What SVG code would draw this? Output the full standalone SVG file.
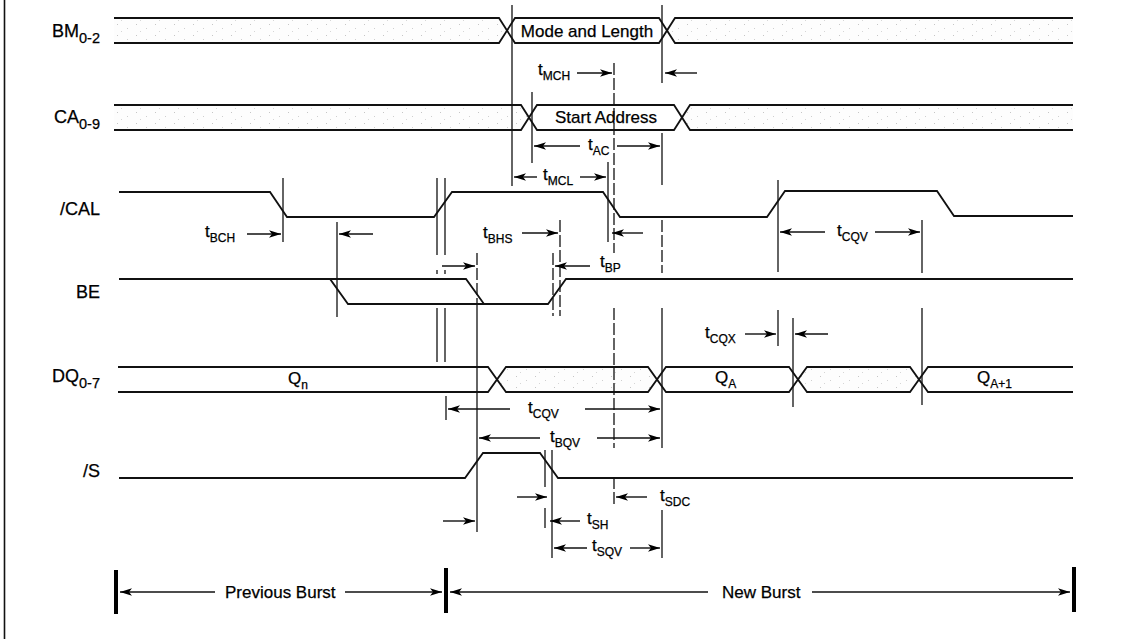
<svg xmlns="http://www.w3.org/2000/svg" width="1123" height="639" viewBox="0 0 1123 639">
<style>
text{font-family:"Liberation Sans",Arial,sans-serif;fill:#000;stroke:#000;stroke-width:0.25}
.lbl{font-size:17px}
.sl{font-size:18px}
.sub{font-size:14.5px}
.ts{font-size:12px}
.sig{fill:none;stroke:#111;stroke-width:1.8;stroke-linejoin:miter}
.ref{fill:none;stroke:#111;stroke-width:1.3}
.dash{fill:none;stroke:#111;stroke-width:1.3;stroke-dasharray:12 3}
.arr{fill:none;stroke:#111;stroke-width:1.4;marker-end:url(#ah)}
.bar{stroke:#000;stroke-width:4}
.dc{fill:url(#spk);stroke:none}
</style>
<defs>
<marker id="ah" markerUnits="userSpaceOnUse" markerWidth="13" markerHeight="9" refX="12" refY="4.5" orient="auto">
<path d="M0,0.8 L12,4.5 L0,8.2 L3,4.5 z" fill="#000"/>
</marker>
<pattern id="spk" patternUnits="userSpaceOnUse" width="19" height="11">
<rect width="19" height="11" fill="#fdfdfd"/>
<rect x="3" y="2" width="1" height="1" fill="#c6c6c6"/>
<rect x="13" y="6" width="1" height="1" fill="#cfcfcf"/>
<rect x="7" y="9" width="1" height="1" fill="#d6d6d6"/>
</pattern>
</defs>
<rect width="1123" height="639" fill="#fff"/>
<line x1="4.5" y1="0" x2="4.5" y2="639" stroke="#111" stroke-width="1.6"/>

<g id="BM">
<text class="sl" x="100" y="37" text-anchor="end">BM<tspan class="sub" dy="6">0-2</tspan></text>
<path class="dc" d="M114,18 H499 L507,30.5 L499,43 H114 Z"/>
<path class="dc" d="M667,30.5 L675,18 H1073 V43 H675 Z"/>
<path class="sig" d="M114,18 H499 L515,43 H659 L675,18 H1073"/>
<path class="sig" d="M114,43 H499 L515,18 H659 L675,43 H1073"/>
<text class="lbl" x="587" y="37" text-anchor="middle">Mode and Length</text>
</g>

<g id="CA">
<text class="sl" x="100" y="123" text-anchor="end">CA<tspan class="sub" dy="6">0-9</tspan></text>
<path class="dc" d="M114,105 H521 L529,117.5 L521,130 H114 Z"/>
<path class="dc" d="M682,117.5 L690,105 H1073 V130 H690 Z"/>
<path class="sig" d="M114,105 H521 L537,130 H674 L690,105 H1073"/>
<path class="sig" d="M114,130 H521 L537,105 H674 L690,130 H1073"/>
<text class="lbl" x="606" y="123" text-anchor="middle">Start Address</text>
</g>

<g id="CAL">
<text class="sl" x="100" y="215" text-anchor="end">/CAL</text>
<path class="sig" d="M119,192 H270 L287,217 H434 L452,192 H603 L620,217 H767 L785,191 H937 L954,216 H1073"/>
</g>

<g id="BE">
<text class="sl" x="100" y="298" text-anchor="end">BE</text>
<path class="sig" d="M119,279 H330 L348,304 H548 L566,279 H1073"/>
<path class="sig" d="M330,279 H466 L484,304"/>
</g>

<g id="DQ">
<text class="sl" x="100" y="382" text-anchor="end">DQ<tspan class="sub" dy="6">0-7</tspan></text>
<path class="dc" d="M497,379.5 L506,367 H648 L657,379.5 L648,392 H506 Z"/>
<path class="dc" d="M798,379.5 L807,367 H910 L919,379.5 L910,392 H807 Z"/>
<path class="sig" d="M118,367 H488 L506,392 H648 L666,367 H789 L807,392 H910 L928,367 H1073"/>
<path class="sig" d="M118,392 H488 L506,367 H648 L666,392 H789 L807,367 H910 L928,392 H1073"/>
<text class="lbl" x="288" y="384">Q<tspan class="ts" dy="5">n</tspan></text>
<text class="lbl" x="715" y="383">Q<tspan class="ts" dy="5">A</tspan></text>
<text class="lbl" x="977" y="383">Q<tspan class="ts" dy="5">A+1</tspan></text>
</g>

<g id="S">
<text class="sl" x="100" y="477" text-anchor="end">/S</text>
<path class="sig" d="M119,478 H465 L483,453 H540 L558,478 H1073"/>
</g>

<g id="connectors">
<line class="ref" x1="283" y1="178" x2="283" y2="242"/>
<line class="ref" x1="337" y1="222" x2="337" y2="317"/>
<line class="ref" x1="437" y1="178" x2="437" y2="255"/>
<line class="ref" x1="445" y1="178" x2="445" y2="255"/>
<line class="ref" x1="437" y1="270" x2="437" y2="274"/>
<line class="ref" x1="445" y1="270" x2="445" y2="274"/>
<line class="ref" x1="437" y1="308" x2="437" y2="362"/>
<line class="ref" x1="445" y1="308" x2="445" y2="362"/>
<line class="dash" x1="477" y1="253" x2="477" y2="300"/>
<line class="ref" x1="477" y1="300" x2="477" y2="532"/>
<line class="ref" x1="512" y1="5" x2="512" y2="186"/>
<line class="ref" x1="532" y1="92" x2="532" y2="163"/>
<line class="dash" x1="553" y1="253" x2="553" y2="316"/>
<line class="dash" x1="560" y1="220" x2="560" y2="316"/>
<line class="ref" x1="608" y1="162" x2="608" y2="242"/>
<line class="dash" x1="614" y1="63" x2="614" y2="253"/>
<line class="dash" x1="614" y1="308" x2="614" y2="448"/>
<line class="dash" x1="614" y1="477" x2="614" y2="505"/>
<line class="ref" x1="662" y1="5" x2="662" y2="83"/>
<line class="ref" x1="662" y1="133" x2="662" y2="185"/>
<line class="dash" x1="662" y1="220" x2="662" y2="273"/>
<line class="ref" x1="662" y1="308" x2="662" y2="448"/>
<line class="ref" x1="662" y1="510" x2="662" y2="558"/>
<line class="ref" x1="778" y1="180" x2="778" y2="272"/>
<line class="ref" x1="778" y1="310" x2="778" y2="346"/>
<line class="ref" x1="793" y1="318" x2="793" y2="407"/>
<line class="ref" x1="922" y1="220" x2="922" y2="273"/>
<line class="ref" x1="922" y1="308" x2="922" y2="405"/>
<line class="ref" x1="446" y1="396" x2="446" y2="420"/>
<line class="ref" x1="545" y1="450" x2="545" y2="487"/>
<line class="ref" x1="545" y1="508" x2="545" y2="528"/>
<line class="ref" x1="552" y1="450" x2="552" y2="558"/>

<text class="lbl" x="538" y="75">t<tspan class="ts" dy="5">MCH</tspan></text>
<line class="arr" x1="577" y1="73" x2="612" y2="73"/>
<line class="arr" x1="697" y1="73" x2="665" y2="73"/>

<line class="arr" x1="580" y1="146" x2="534" y2="146"/>
<text class="lbl" x="588" y="150">t<tspan class="ts" dy="5">AC</tspan></text>
<line class="arr" x1="617" y1="146" x2="660" y2="146"/>

<line class="arr" x1="537" y1="177" x2="514" y2="177"/>
<text class="lbl" x="543" y="180">t<tspan class="ts" dy="5">MCL</tspan></text>
<line class="arr" x1="580" y1="177" x2="606" y2="177"/>

<text class="lbl" x="205" y="237">t<tspan class="ts" dy="5">BCH</tspan></text>
<line class="arr" x1="247" y1="234" x2="281" y2="234"/>
<line class="arr" x1="373" y1="234" x2="339" y2="234"/>

<text class="lbl" x="483" y="238">t<tspan class="ts" dy="5">BHS</tspan></text>
<line class="arr" x1="522" y1="233" x2="558" y2="233"/>
<line class="arr" x1="643" y1="233" x2="612" y2="233"/>

<line class="arr" x1="442" y1="266" x2="475" y2="266"/>
<line class="arr" x1="590" y1="266" x2="555" y2="266"/>
<text class="lbl" x="600" y="267">t<tspan class="ts" dy="5">BP</tspan></text>

<line class="arr" x1="825" y1="232" x2="780" y2="232"/>
<text class="lbl" x="837" y="236">t<tspan class="ts" dy="5">CQV</tspan></text>
<line class="arr" x1="875" y1="232" x2="920" y2="232"/>

<text class="lbl" x="705" y="338">t<tspan class="ts" dy="5">CQX</tspan></text>
<line class="arr" x1="745" y1="334" x2="776" y2="334"/>
<line class="arr" x1="828" y1="334" x2="795" y2="334"/>

<line class="arr" x1="510" y1="409" x2="448" y2="409"/>
<text class="lbl" x="528" y="413">t<tspan class="ts" dy="5">CQV</tspan></text>
<line class="arr" x1="585" y1="409" x2="660" y2="409"/>

<line class="arr" x1="540" y1="438" x2="479" y2="438"/>
<text class="lbl" x="550" y="442">t<tspan class="ts" dy="5">BQV</tspan></text>
<line class="arr" x1="597" y1="438" x2="660" y2="438"/>

<line class="arr" x1="517" y1="497" x2="547" y2="497"/>
<line class="arr" x1="647" y1="497" x2="616" y2="497"/>
<text class="lbl" x="660" y="501">t<tspan class="ts" dy="5">SDC</tspan></text>

<line class="arr" x1="443" y1="521" x2="475" y2="521"/>
<line class="arr" x1="580" y1="521" x2="550" y2="521"/>
<text class="lbl" x="587" y="524">t<tspan class="ts" dy="5">SH</tspan></text>

<line class="arr" x1="587" y1="548" x2="554" y2="548"/>
<text class="lbl" x="592" y="551">t<tspan class="ts" dy="5">SQV</tspan></text>
<line class="arr" x1="630" y1="548" x2="660" y2="548"/>

<line class="bar" x1="116" y1="570" x2="116" y2="614"/>
<line class="bar" x1="446" y1="568" x2="446" y2="613"/>
<line class="bar" x1="1074" y1="567" x2="1074" y2="612"/>
<line class="arr" x1="215" y1="592" x2="120" y2="592"/>
<text class="lbl" x="225" y="598">Previous Burst</text>
<line class="arr" x1="345" y1="592" x2="442" y2="592"/>
<line class="arr" x1="708" y1="592" x2="450" y2="592"/>
<text class="lbl" x="722" y="598">New Burst</text>
<line class="arr" x1="812" y1="592" x2="1070" y2="592"/>
</g>
</svg>
